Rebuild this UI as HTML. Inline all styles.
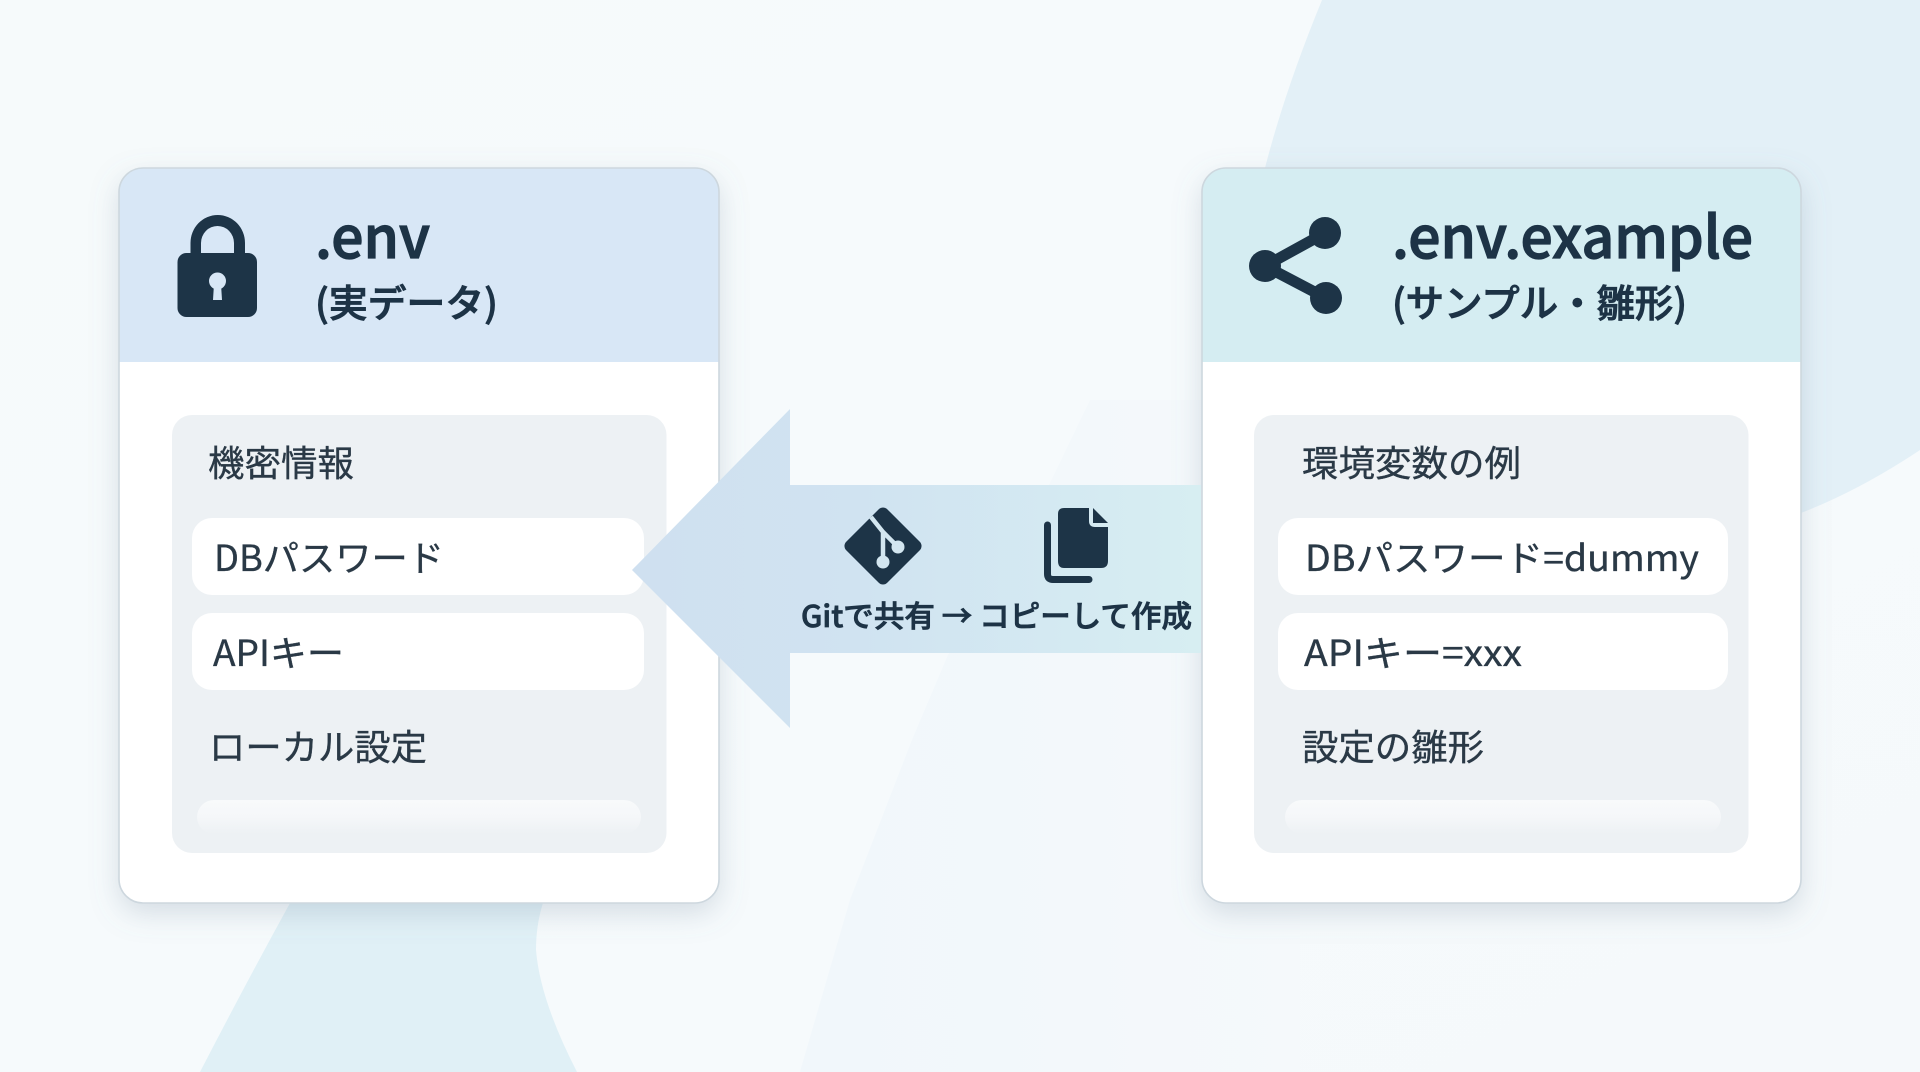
<!DOCTYPE html>
<html lang="ja">
<head>
<meta charset="utf-8">
<title>.env / .env.example</title>
<style>
html,body{margin:0;padding:0;width:1920px;height:1072px;overflow:hidden;background:#f6fafc}
svg{display:block}
text{font-family:"Noto Sans CJK JP","Liberation Sans",sans-serif;fill:#2a3946;paint-order:stroke}
.t{font-size:58px;font-weight:500;fill:#1d3346;stroke:#1d3346;stroke-width:1.3px}
.s{font-size:38px;font-weight:500;fill:#1d3346;stroke:#1d3346;stroke-width:.9px}
.l{font-size:36px;stroke:#2a3946;stroke-width:.35px}
.g{font-size:30px;font-weight:500;fill:#1d3346;stroke:#1d3346;stroke-width:.8px}
</style>
</head>
<body>
<svg xmlns="http://www.w3.org/2000/svg" width="1920" height="1072" viewBox="0 0 1920 1072">
<defs>
<linearGradient id="bg" x1="0" y1="0" x2="1" y2="1">
<stop offset="0" stop-color="#f6fafb"/><stop offset=".5" stop-color="#f6fafc"/><stop offset="1" stop-color="#f5f9fb"/>
</linearGradient>
<linearGradient id="faint" x1="850" y1="0" x2="1300" y2="0" gradientUnits="userSpaceOnUse">
<stop offset="0" stop-color="#f1f7fb"/><stop offset="1" stop-color="#f5f9fb"/>
</linearGradient>
<linearGradient id="arrow" x1="632" y1="0" x2="1202" y2="0" gradientUnits="userSpaceOnUse">
<stop offset="0" stop-color="#cfe0f0"/><stop offset=".4" stop-color="#d0e3f1"/><stop offset="1" stop-color="#d7eef2"/>
</linearGradient>
<linearGradient id="fade" x1="0" y1="0" x2="0" y2="1">
<stop offset="0" stop-color="#f8fafb"/><stop offset=".5" stop-color="#f5f7f9"/><stop offset="1" stop-color="#edf1f4"/>
</linearGradient>
<filter id="sh" x="-10%" y="-10%" width="120%" height="120%">
<feDropShadow dx="0" dy="10" stdDeviation="14" flood-color="#6f889c" flood-opacity=".26"/>
</filter>
<clipPath id="c1"><rect x="119" y="168" width="600" height="735" rx="24"/></clipPath>
<clipPath id="c2"><rect x="1202" y="168" width="599" height="735" rx="24"/></clipPath>
</defs>

<rect width="1920" height="1072" fill="url(#bg)"/>
<!-- background shapes -->
<path d="M1090 400 L1050 483 L948 655 L912 740 L850 900 L800 1072 H1300 V400 Z" fill="url(#faint)"/>
<path d="M1322 0 Q1285 90 1265 168 L1240 300 L1400 480 L1801 513 Q1860 490 1920 450 V0 Z" fill="#e3f0f7"/>
<path d="M290 903 Q245 985 200 1072 H577 Q540 1000 536 950 Q536 925 543 903 Z" fill="#e0f0f6"/>

<!-- left card -->
<g filter="url(#sh)"><rect x="119" y="168" width="600" height="735" rx="24" fill="#fff"/></g>
<g clip-path="url(#c1)"><rect x="119" y="168" width="600" height="194" fill="#d8e7f6"/></g>
<rect x="119" y="168" width="600" height="735" rx="24" fill="none" stroke="#cdd7de" stroke-width="1.6"/>
<rect x="172" y="415" width="494.5" height="438" rx="20" fill="#edf1f4"/>
<rect x="192" y="518" width="452" height="77" rx="20" fill="#fff"/>
<rect x="192" y="613" width="452" height="77" rx="20" fill="#fff"/>
<rect x="197" y="800" width="444" height="34" rx="17" fill="url(#fade)"/>

<!-- right card -->
<g filter="url(#sh)"><rect x="1202" y="168" width="599" height="735" rx="24" fill="#fff"/></g>
<g clip-path="url(#c2)"><rect x="1202" y="168" width="599" height="194" fill="#d5edf2"/></g>
<rect x="1202" y="168" width="599" height="735" rx="24" fill="none" stroke="#cdd7de" stroke-width="1.6"/>
<rect x="1254" y="415" width="494.5" height="438" rx="20" fill="#edf1f4"/>
<rect x="1278" y="518" width="450" height="77" rx="20" fill="#fff"/>
<rect x="1278" y="613" width="450" height="77" rx="20" fill="#fff"/>
<rect x="1285" y="800" width="436" height="34" rx="17" fill="url(#fade)"/>

<!-- arrow -->
<path d="M632 570 L790 409 V485 H1201 V653 H790 V728 Z" fill="url(#arrow)"/>

<!-- lock icon -->
<path d="M190.5 262 V243 A27.2 28 0 0 1 245 243 V262 H234 V243 A16.5 17 0 0 0 201 243 V262 Z" fill="#1d3447"/>
<rect x="177.5" y="253" width="79.5" height="64" rx="9" fill="#1d3447"/>
<circle cx="217.5" cy="281" r="8.5" fill="#d8e7f6"/>
<path d="M214 284 H221 L222 300 H213 Z" fill="#d8e7f6"/>

<!-- share icon -->
<g fill="#1d3447" stroke="#1d3447">
<path d="M1325 233 L1265 266 L1326 298" fill="none" stroke-width="11"/>
<circle cx="1325" cy="233" r="16" stroke="none"/>
<circle cx="1265" cy="266" r="16" stroke="none"/>
<circle cx="1326" cy="298" r="16" stroke="none"/>
</g>

<!-- git icon -->
<rect x="854" y="517" width="58" height="58" rx="6" transform="rotate(45 883 546)" fill="#1d3447"/>
<path d="M871 517 L883 532 V562 M883 532 L898 547" fill="none" stroke="#d3e6f0" stroke-width="4.5"/>
<circle cx="883" cy="562" r="6.5" fill="#d3e6f0"/>
<circle cx="898" cy="547" r="6.5" fill="#d3e6f0"/>

<!-- copy icon -->
<path d="M1064 508 H1089 V521 Q1089 527 1095 527 H1108 V561 Q1108 568 1101 568 H1064 Q1058 568 1058 561 V514 Q1058 508 1064 508 Z" fill="#1d3447"/>
<path d="M1093 508 L1108 523 H1093 Z" fill="#1d3447"/>
<path d="M1047.5 525 V574 Q1047.5 579.5 1053 579.5 H1089" fill="none" stroke="#1d3447" stroke-width="7" stroke-linecap="round"/>

<!-- titles -->
<text class="t" x="315" y="258" textLength="115" lengthAdjust="spacingAndGlyphs">.env</text>
<text class="s" x="315" y="317" textLength="183" lengthAdjust="spacingAndGlyphs">(実データ)</text>
<text class="t" x="1392" y="258" textLength="361" lengthAdjust="spacingAndGlyphs">.env.example</text>
<text class="s" x="1392" y="317" textLength="295" lengthAdjust="spacingAndGlyphs">(サンプル・雛形)</text>

<!-- left labels -->
<text class="l" x="208" y="476" textLength="146" lengthAdjust="spacingAndGlyphs">機密情報</text>
<text class="l" x="214" y="571" textLength="230" lengthAdjust="spacingAndGlyphs">DBパスワード</text>
<text class="l" x="213" y="666" textLength="131" lengthAdjust="spacingAndGlyphs">APIキー</text>
<text class="l" x="209" y="760" textLength="218" lengthAdjust="spacingAndGlyphs">ローカル設定</text>

<!-- right labels -->
<text class="l" x="1302" y="476" textLength="219" lengthAdjust="spacingAndGlyphs">環境変数の例</text>
<text class="l" x="1305" y="571" textLength="394" lengthAdjust="spacingAndGlyphs">DBパスワード=dummy</text>
<text class="l" x="1304" y="666" textLength="218" lengthAdjust="spacingAndGlyphs">APIキー=xxx</text>
<text class="l" x="1302" y="760" textLength="182" lengthAdjust="spacingAndGlyphs">設定の雛形</text>

<!-- arrow label -->
<text class="g" x="801" y="627" textLength="391" lengthAdjust="spacingAndGlyphs">Gitで共有 → コピーして作成</text>
</svg>
</body>
</html>
